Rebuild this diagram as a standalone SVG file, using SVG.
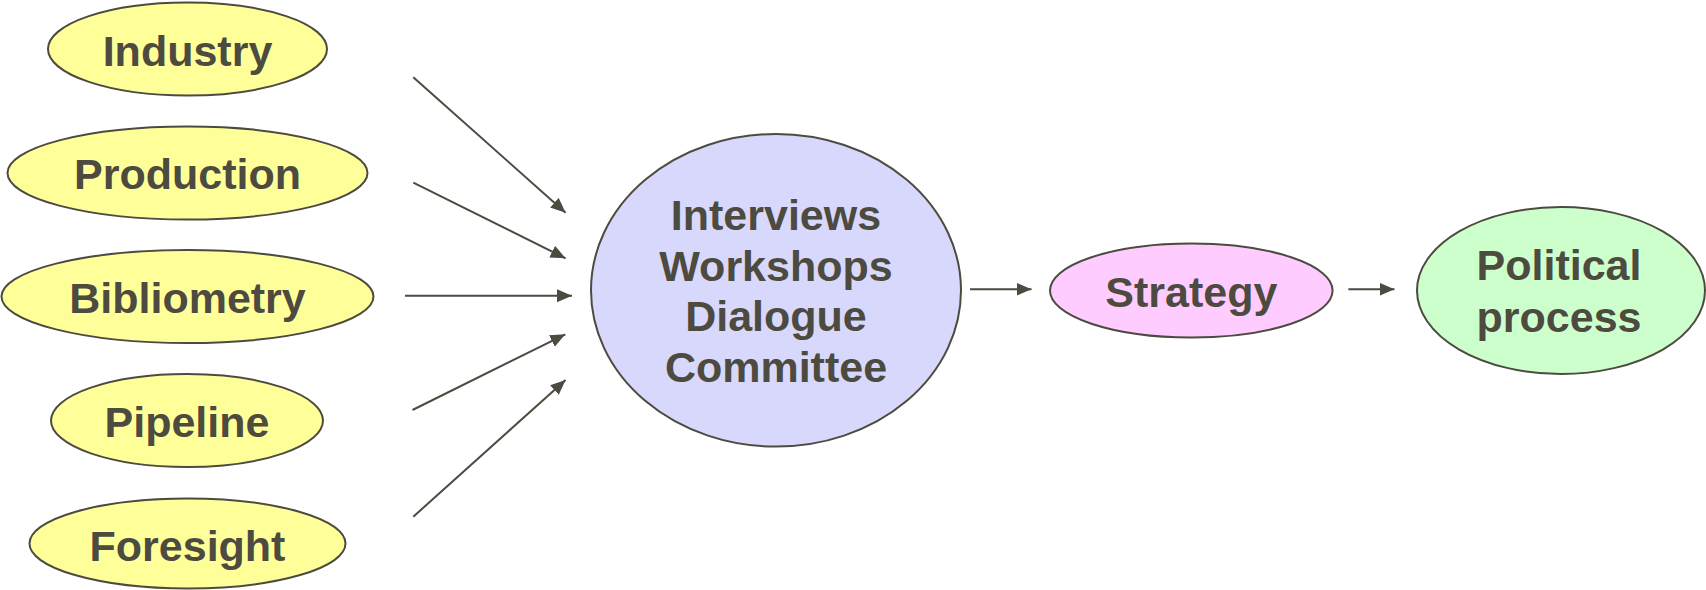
<svg xmlns="http://www.w3.org/2000/svg" width="1706" height="590" viewBox="0 0 1706 590">
<style>
.n{stroke:#4d4a40;stroke-width:2}
.y{fill:#ffff99}
.b{fill:#d8d8fc}
.p{fill:#ffccff}
.g{fill:#ccffcc}
text{font-family:"Liberation Sans",Arial,sans-serif;font-weight:bold;font-size:43px;fill:#4d4a40;text-anchor:middle}
.c line{stroke:#4d4a40;stroke-width:2;marker-end:url(#ah)}
</style>
<defs>
<marker id="ah" markerUnits="userSpaceOnUse" markerWidth="16" markerHeight="14" refX="15" refY="6.5" orient="auto">
<path d="M0,0 L15,6.5 L0,13 z" fill="#4d4a40"/>
</marker>
</defs>
<rect width="1706" height="590" fill="#ffffff"/>
<g id="industry"><ellipse class="n y" cx="187.5" cy="49" rx="139.5" ry="46.5"/><text x="187.5" y="66">Industry</text></g>
<g id="production"><ellipse class="n y" cx="187.5" cy="173" rx="180" ry="46.5"/><text x="187.5" y="189">Production</text></g>
<g id="bibliometry"><ellipse class="n y" cx="187.5" cy="296.5" rx="186" ry="46.5"/><text x="187.5" y="312.5">Bibliometry</text></g>
<g id="pipeline"><ellipse class="n y" cx="187" cy="420.5" rx="136" ry="46.5"/><text x="187" y="436.5">Pipeline</text></g>
<g id="foresight"><ellipse class="n y" cx="187.5" cy="543.5" rx="158" ry="45"/><text x="187.5" y="560.5">Foresight</text></g>
<g id="methods"><ellipse class="n b" cx="776" cy="290.3" rx="185" ry="156.3"/>
<text x="776" y="230">Interviews</text><text x="776" y="280.5">Workshops</text><text x="776" y="331">Dialogue</text><text x="776" y="381.5">Committee</text></g>
<g id="strategy"><ellipse class="n p" cx="1191.3" cy="290.5" rx="141.3" ry="47"/><text x="1191.3" y="306.5">Strategy</text></g>
<g id="political"><ellipse class="n g" cx="1561" cy="290.5" rx="144" ry="83.5"/><text x="1559" y="280">Political</text><text x="1559" y="331.5">process</text></g>
<g id="connectors" class="c">
<line x1="413.3" y1="77.3" x2="565.6" y2="212.7"/>
<line x1="413.3" y1="182.7" x2="565.6" y2="258.3"/>
<line x1="405" y1="295.7" x2="572" y2="295.7"/>
<line x1="412.5" y1="410" x2="565.3" y2="334.3"/>
<line x1="413.3" y1="516.7" x2="565.6" y2="380"/>
<line x1="970" y1="289.3" x2="1031.5" y2="289.3"/>
<line x1="1348.4" y1="289.3" x2="1394.5" y2="289.3"/>
</g>
</svg>
